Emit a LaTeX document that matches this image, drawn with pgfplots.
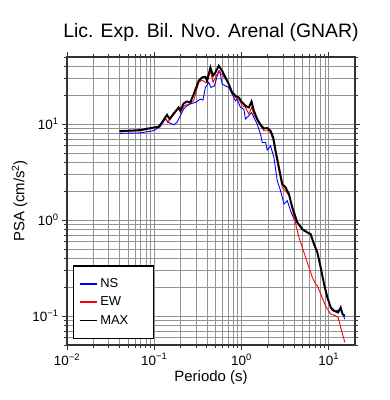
\documentclass[border=0pt]{standalone}
\usepackage{fontspec}
\setmainfont{Liberation Sans}
\usepackage{pgfplots}
\pgfplotsset{compat=1.18}
\usepackage{pgfplotstable}

\pgfplotstableread{
T P
0.040 8.0
0.069 8.1
0.098 8.53
0.117 9.38
0.134 11.3
0.146 10.4
0.167 9.84
0.182 10.4
0.199 12.2
0.217 14.3
0.237 15.5
0.259 16.2
0.296 16.8
0.338 18.2
0.362 17.8
0.386 24.1
0.421 27.2
0.448 24.1
0.490 25.0
0.535 33.2
0.564 35.9
0.600 26.1
0.655 25.0
0.715 24.1
0.781 20.5
0.853 17.5
0.892 18.2
0.974 14.9
1.064 14.3
1.111 11.3
1.214 12.2
1.303 13.2
1.386 11.7
1.514 10.0
1.653 7.87
1.728 6.44
1.888 6.44
1.973 5.36
2.154 5.94
2.353 4.50
2.570 2.57
2.806 2.02
3.066 1.47
3.349 1.59
3.657 1.25
3.997 1.024
4.364 0.93
4.98 0.79
5.69 0.735
6.21 0.705
6.78 0.555
7.41 0.452
8.09 0.316
8.84 0.211
9.66 0.152
11.0 0.1136
12.0 0.1136
13.7 0.117
15.3 0.093
}\ns

\pgfplotstableread{
T P
0.040 8.32
0.069 8.53
0.090 8.94
0.112 9.23
0.1225 10.2
0.134 11.7
0.142 10.4
0.167 12.5
0.1905 14.7
0.199 13.2
0.221 15.5
0.248 16.2
0.283 17.5
0.323 27.2
0.353 28.7
0.386 27.2
0.403 27.2
0.440 35.9
0.472 27.2
0.502 30.6
0.549 35.9
0.600 32.7
0.655 29.4
0.715 26.1
0.781 21.4
0.853 18.9
0.932 18.2
1.018 15.5
1.111 14.9
1.214 12.7
1.303 14.9
1.386 12.7
1.514 10.8
1.653 9.61
1.806 8.53
1.973 8.53
2.154 8.19
2.311 6.70
2.459 4.87
2.686 3.27
2.933 2.19
3.204 2.02
3.499 1.79
3.821 1.30
4.18 0.908
4.56 0.659
4.98 0.519
5.44 0.408
5.94 0.321
6.49 0.253
7.09 0.215
7.41 0.207
8.09 0.170
8.84 0.139
9.66 0.118
10.55 0.105
12.0 0.1007
12.8 0.0968
13.7 0.0762
15.3 0.0532
}\ew

\pgfplotstableread{
T P
0.040 8.45
0.069 8.66
0.090 9.08
0.112 9.38
0.1225 10.4
0.140 12.5
0.150 11.3
0.167 12.9
0.1905 14.9
0.199 13.8
0.217 16.4
0.237 17.2
0.259 16.8
0.283 20.5
0.323 28.2
0.353 30.6
0.386 31.1
0.403 28.2
0.440 38.9
0.472 31.9
0.502 34.5
0.549 40.5
0.600 35.9
0.655 30.6
0.715 26.1
0.781 21.4
0.853 19.7
0.932 18.9
1.018 16.8
1.111 15.5
1.214 14.9
1.303 17.2
1.386 13.8
1.514 11.3
1.653 9.84
1.806 9.01
1.973 9.08
2.154 8.53
2.311 7.27
2.459 5.27
2.686 3.54
2.933 2.37
3.204 2.19
3.499 1.87
3.821 1.36
4.364 0.946
4.98 0.806
5.69 0.744
6.21 0.715
6.78 0.562
7.41 0.460
8.09 0.321
8.84 0.215
9.66 0.156
10.55 0.123
11.52 0.1136
12.8 0.109
13.7 0.123
14.4 0.105
15.3 0.1007
}\mx

\begin{document}
\begin{tikzpicture}
\useasboundingbox (-67bp,-55bp) rectangle (323bp,345bp);
\begin{axis}[
  scale only axis,
  width=288bp, height=288bp,
  xmode=log, ymode=log,
  log basis x=10, log basis y=10,
  xmin=0.01, xmax=20,
  ymin=0.05, ymax=50,
  grid=both,
  major grid style={gray!85, line width=0.5bp},
  minor grid style={gray!85, line width=0.5bp},
  axis line style={line width=1.6bp, black!80},
  tick align=outside,
  major tick length=5bp,
  minor tick length=3bp,
  every tick/.style={black!80, line width=0.6bp},
  tick label style={font=\fontsize{13.5}{15}\selectfont},
  xticklabel={\pgfmathparse{int(round(\tick))}10\textsuperscript{\ifnum\pgfmathresult<0 −\the\numexpr-\pgfmathresult\relax\else\pgfmathresult\fi}},
  yticklabel={\pgfmathparse{int(round(\tick))}10\textsuperscript{\ifnum\pgfmathresult<0 −\the\numexpr-\pgfmathresult\relax\else\pgfmathresult\fi}},
  xlabel={Periodo (s)},
  ylabel={PSA (cm/s\textsuperscript{2})},
  label style={font=\fontsize{15}{17}\selectfont},
  xlabel style={yshift=2bp},
  ylabel style={yshift=-2bp},
  title={Lic. Exp. Bil. Nvo. Arenal (GNAR)},
  title style={font=\fontsize{19.5}{22}\selectfont, at={(0.5,1)}, anchor=base, yshift=14bp},
  legend style={at={(0.021,0.021)}, anchor=south west, draw=black, line width=1.2bp,
    font=\fontsize{13}{15}\selectfont, inner xsep=6bp, inner ysep=10.5bp,
    row sep=4bp, nodes={text width=45bp, inner sep=2bp}},
  legend cell align=left,
  legend image post style={line width=1.6bp},
]
\addplot[blue, line width=0.9bp] table[x=T,y=P] {\ns};
\addlegendentry{NS}
\addplot[red, line width=0.9bp] table[x=T,y=P] {\ew};
\addlegendentry{EW}
\addplot[black, line width=1.9bp] table[x=T,y=P] {\mx};
\addlegendentry{MAX}
\end{axis}
\end{tikzpicture}
\end{document}
